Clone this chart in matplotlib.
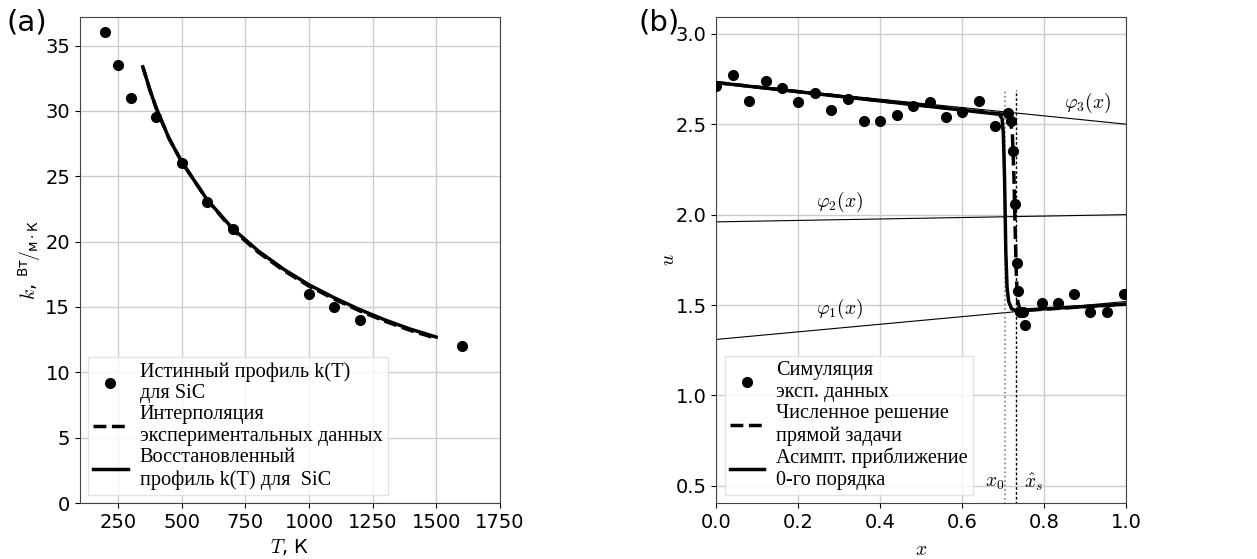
import matplotlib
matplotlib.use("Agg")
import matplotlib.pyplot as plt

plt.rcParams['mathtext.fontset'] = 'cm'
plt.rcParams['font.size'] = 14

# ---- panel (a) data ----
T_pts = [200, 250, 300, 400, 500, 600, 700, 1000, 1100, 1200, 1600]
k_pts = [36.0, 33.5, 31.0, 29.5, 26.0, 23.0, 21.0, 16.0, 15.0, 14.0, 12.0]

T_interp = [345, 375, 400, 450, 500, 600, 700, 800, 900, 1000, 1100, 1200, 1300, 1400, 1500]
k_interp = [33.5, 31.6, 30.2, 27.9, 26.1, 23.2, 20.9, 19.2, 17.8, 16.6, 15.6, 14.7, 13.9, 13.2, 12.6]

T_rest = [350, 375, 400, 450, 500, 600, 700, 800, 900, 1000, 1100, 1200, 1300, 1400, 1500]
k_rest = [33.2, 31.6, 30.2, 27.9, 26.1, 23.2, 21.0, 19.3, 17.9, 16.7, 15.7, 14.8, 14.0, 13.3, 12.7]

# ---- panel (b) data ----
x_pts = [0.0, 0.04, 0.08, 0.12, 0.16, 0.20, 0.24, 0.28, 0.32, 0.36, 0.40, 0.44,
         0.48, 0.52, 0.56, 0.60, 0.64, 0.68, 0.712, 0.718, 0.723, 0.729, 0.733,
         0.737, 0.741, 0.747, 0.753, 0.794, 0.833, 0.873, 0.912, 0.953, 0.995]
u_pts = [2.71, 2.77, 2.63, 2.74, 2.70, 2.62, 2.67, 2.58, 2.64, 2.52, 2.52, 2.55,
         2.60, 2.62, 2.54, 2.57, 2.63, 2.49, 2.56, 2.52, 2.35, 2.06, 1.73,
         1.58, 1.46, 1.46, 1.39, 1.51, 1.51, 1.56, 1.46, 1.46, 1.56]

x_num = [0.0, 0.70, 0.715, 0.722, 0.726, 0.729, 0.732, 0.735, 0.74, 0.75, 1.0]
u_num = [2.73, 2.555, 2.54, 2.45, 2.2, 1.9, 1.65, 1.52, 1.48, 1.47, 1.505]

x_asym = [0.0, 0.69, 0.697, 0.700, 0.703, 0.706, 0.709, 0.713, 0.72, 0.73, 1.0]
u_asym = [2.73, 2.555, 2.53, 2.45, 2.2, 1.8, 1.6, 1.52, 1.48, 1.47, 1.505]

x_phi = [0.0, 1.0]
phi1 = [1.31, 1.52]
phi2 = [1.96, 2.0]
phi3 = [2.73, 2.50]

x0 = 0.703
xs = 0.730

fig = plt.figure(figsize=(12.57, 5.59), dpi=100)
axa = fig.add_axes([0.0636, 0.100, 0.334, 0.870])
axb = fig.add_axes([0.570, 0.100, 0.326, 0.870])

serif = {'family': 'Liberation Serif', 'size': 14.6}
leg_kw = dict(loc='lower left', prop=serif, handlelength=1.7, handletextpad=0.6,
              labelspacing=0.1, borderpad=0.25, borderaxespad=0.4,
              fancybox=False, framealpha=0.8, edgecolor='#dddddd')

# (a)
axa.grid(True, color='#cccccc', lw=1)
axa.plot(T_pts, k_pts, 'o', color='black', ms=7, label='Истинный профиль k(T)\nдля SiC', zorder=3)
axa.plot(T_interp, k_interp, '--', color='black', lw=2.5, label='Интерполяция\nэкспериментальных данных')
axa.plot(T_rest, k_rest, '-', color='black', lw=2.5, label='Восстановленный\nпрофиль k(T) для  SiC')
axa.set_xlim(100, 1750)
axa.set_ylim(0, 37.2)
axa.set_xticks([250, 500, 750, 1000, 1250, 1500, 1750])
axa.set_yticks([0, 5, 10, 15, 20, 25, 30, 35])
axa.set_xlabel(r'$T$, К', labelpad=4)
axa.set_ylabel(r'$k$, $^{\mathregular{Вт}}\!/_{\mathregular{м\cdot К}}$', labelpad=2)
axa.legend(**leg_kw)

# (b)
axb.grid(True, color='#cccccc', lw=1)
axb.plot(x_phi, phi1, '-', color='black', lw=0.8)
axb.plot(x_phi, phi2, '-', color='black', lw=0.8)
axb.plot(x_phi, phi3, '-', color='black', lw=0.8)
axb.plot([x0, x0], [0.4, 2.69], ':', color='gray', lw=1.2)
axb.plot([xs, xs], [0.4, 2.69], '--', color='black', lw=1.0, dashes=(2, 1.5))
axb.plot(x_pts, u_pts, 'o', color='black', ms=7, label='Симуляция\nэксп. данных', zorder=3)
axb.plot(x_num, u_num, '--', color='black', lw=2.5, label='Численное решение\nпрямой задачи')
axb.plot(x_asym, u_asym, '-', color='black', lw=2.5, label='Асимпт. приближение\n0-го порядка')
axb.text(0.905, 2.617, r'$\varphi_3(x)$', ha='center', va='center', fontsize=14)
axb.text(0.30, 2.07, r'$\varphi_2(x)$', ha='center', va='center', fontsize=14)
axb.text(0.30, 1.48, r'$\varphi_1(x)$', ha='center', va='center', fontsize=14)
axb.text(0.678, 0.52, r'$x_0$', ha='center', va='center', fontsize=14)
axb.text(0.775, 0.52, r'$\hat{x}_s$', ha='center', va='center', fontsize=14)
axb.set_xlim(0, 1.0)
axb.set_ylim(0.405, 3.094)
axb.set_xticks([0.0, 0.2, 0.4, 0.6, 0.8, 1.0])
axb.set_yticks([0.5, 1.0, 1.5, 2.0, 2.5, 3.0])
axb.set_xlabel(r'$x$', labelpad=6)
axb.set_ylabel(r'$u$', labelpad=-2)
axb.legend(**leg_kw)

for ax in (axa, axb):
    for s in ax.spines.values():
        s.set_color('#444444')

fig.text(0.005, 0.945, '(a)', fontsize=21)
fig.text(0.508, 0.945, '(b)', fontsize=21)

fig.savefig('out.png', dpi=100)
